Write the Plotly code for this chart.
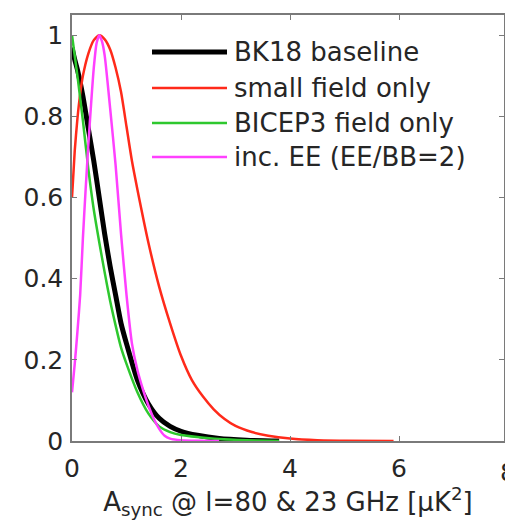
import plotly.graph_objects as go

# ---- data ----
bk18_x = [0, 0.05, 0.1, 0.2, 0.3, 0.4, 0.5, 0.6, 0.7, 0.8, 0.9, 1.0, 1.2, 1.4, 1.6, 1.8, 2.0, 2.3, 2.7, 3.2, 3.8]
bk18_y = [0.97, 0.94, 0.915, 0.85, 0.77, 0.69, 0.60, 0.51, 0.43, 0.36, 0.29, 0.24, 0.15, 0.092, 0.056, 0.036, 0.024, 0.014, 0.006, 0.002, 0.0]

small_x = [0, 0.05, 0.1, 0.15, 0.2, 0.3, 0.4, 0.5, 0.6, 0.7, 0.8, 0.9, 1.0, 1.1, 1.2, 1.4, 1.6, 1.8, 2.0, 2.2, 2.4, 2.6, 2.8, 3.0, 3.3, 3.6, 4.0, 4.5, 5.0, 5.9]
small_y = [0.60, 0.715, 0.795, 0.855, 0.90, 0.955, 0.988, 1.0, 0.99, 0.965, 0.92, 0.86, 0.775, 0.69, 0.62, 0.49, 0.38, 0.29, 0.21, 0.15, 0.11, 0.078, 0.054, 0.037, 0.022, 0.013, 0.006, 0.002, 0.0008, 0.0]

b3_x = [0, 0.1, 0.2, 0.3, 0.4, 0.5, 0.6, 0.7, 0.8, 0.9, 1.0, 1.2, 1.4, 1.6, 1.8, 2.0, 2.3, 2.7, 3.2, 3.8]
b3_y = [1.0, 0.90, 0.79, 0.67, 0.57, 0.49, 0.415, 0.345, 0.285, 0.23, 0.19, 0.12, 0.068, 0.036, 0.022, 0.015, 0.01, 0.005, 0.002, 0.0]

ee_x = [0, 0.05, 0.1, 0.15, 0.2, 0.25, 0.3, 0.35, 0.4, 0.45, 0.5, 0.55, 0.6, 0.7, 0.8, 0.9, 1.0, 1.1, 1.2, 1.3, 1.4, 1.5, 1.6, 1.7, 1.8, 2.0, 2.3, 2.7]
ee_y = [0.12, 0.19, 0.27, 0.36, 0.50, 0.62, 0.73, 0.83, 0.92, 0.98, 1.0, 0.985, 0.95, 0.82, 0.68, 0.51, 0.36, 0.24, 0.175, 0.128, 0.088, 0.055, 0.03, 0.013, 0.006, 0.002, 0.0005, 0.0]

labels = ["BK18 baseline", "small field only", "BICEP3 field only", "inc. EE (EE/BB=2)"]
colors = ["#000000", "#ff2a1a", "#2ec82e", "#ff40ff"]
widths = [5, 2.5, 2.5, 2.5]
series = [(bk18_x, bk18_y), (small_x, small_y), (b3_x, b3_y), (ee_x, ee_y)]

x_ticks = [0, 2, 4, 6]
y_ticks = [0, 0.2, 0.4, 0.6, 0.8, 1]

fig = go.Figure()
for (xs, ys), name, c, w in zip(series, labels, colors, widths):
    fig.add_trace(go.Scatter(x=xs, y=ys, mode="lines", name=name,
                             line=dict(color=c, width=w, shape="spline", smoothing=0.6),
                             showlegend=False))

W, H = 505, 525
L, R, T, B = 72, 1, 15, 84
pw, ph = W - L - R, H - T - B
px_per_unit = 54.5
xmax = pw / px_per_unit

font = dict(family="DejaVu Sans, sans-serif", size=25, color="#262626")
legfont = dict(font, size=26)
axcol = "#7a7a7a"

# manual legend (long line samples like the reference)
rows = [52, 88, 123, 157]
shapes, annots = [], []
for r, name, c, w in zip(rows, labels, colors, widths):
    yp = (H - B - r) / ph
    shapes.append(dict(type="line", xref="paper", yref="paper",
                       x0=(152 - L) / pw, x1=(227 - L) / pw, y0=yp, y1=yp,
                       line=dict(color=c, width=w)))
    annots.append(dict(text=name, xref="paper", yref="paper", x=(232 - L) / pw, y=yp,
                       xanchor="left", yanchor="middle", showarrow=False, font=legfont))

# partially visible "8" tick label at the clipped right edge
annots.append(dict(text="8", xref="paper", yref="paper", x=(8 * px_per_unit) / pw, y=-15 / ph,
                   xanchor="center", yanchor="top", showarrow=False, font=font))

fig.update_layout(
    width=W, height=H,
    margin=dict(l=L, r=R, t=T, b=B, pad=0),
    paper_bgcolor="white", plot_bgcolor="white",
    font=font,
    shapes=shapes, annotations=annots,
    xaxis=dict(range=[0, xmax], tickvals=x_ticks, ticks="inside", ticklen=5, tickcolor=axcol,
               showline=True, linecolor=axcol, linewidth=1.5, mirror="ticks", showgrid=False,
               zeroline=False, tickfont=font, automargin=False, ticklabelstandoff=4,
               title=dict(text="A<sub>sync</sub> @ l=80 & 23 GHz [μK<sup>2</sup>]", font=dict(font, size=26), standoff=6)),
    yaxis=dict(range=[0, 1.05], tickvals=y_ticks, ticks="inside", ticklen=5, tickcolor=axcol,
               showline=True, linecolor=axcol, linewidth=1.5, mirror="ticks", showgrid=False,
               zeroline=False, tickfont=font, automargin=False, ticklabelstandoff=2),
)

fig.write_html("out.html", config={"displayModeBar": False},
               post_script="document.body.style.margin='0';document.body.style.overflow='hidden';")
